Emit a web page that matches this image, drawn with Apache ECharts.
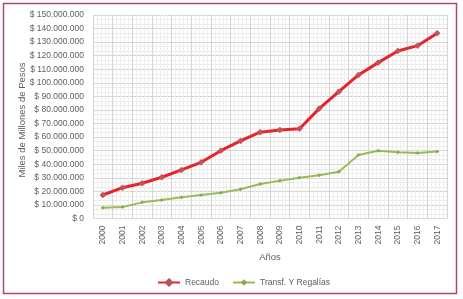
<!DOCTYPE html>
<html><head><meta charset="utf-8">
<script src="https://cdn.jsdelivr.net/npm/echarts@6/dist/echarts.min.js"></script>
<style>html,body{margin:0;padding:0;background:#fff}#c{width:463px;height:299px}</style>
</head><body><div id="c"></div>
<script>
const years = ['2000','2001','2002','2003','2004','2005','2006','2007','2008','2009','2010','2011','2012','2013','2014','2015','2016','2017'];
const recaudo = [17300000,22700000,26000000,30400000,35800000,41400000,50000000,57200000,63600000,65300000,66200000,81000000,93500000,105800000,114900000,123500000,127400000,136600000];
const transf = [8000000,8500000,11900000,13600000,15600000,17300000,19000000,21500000,25400000,27900000,30100000,31900000,34500000,46800000,50000000,48800000,48300000,49300000];
const seriesNames = ['Recaudo','Transf. Y Regalías'];
const yTitle = 'Miles de Millones de Pesos';
const xTitle = 'Años';

const FONT = '"Liberation Sans", Arial, sans-serif';
const TXT = '#606060';
function fmt(v){
  return '$ ' + String(Math.round(v)).replace(/\B(?=(\d{3})+(?!\d))/g, '.');
}
const chart = echarts.init(document.getElementById('c'), null, {renderer:'canvas'});
chart.setOption({
  animation:false,
  backgroundColor:'#fff',
  textStyle:{fontFamily:FONT},
  grid:{left:93, right:16, top:15, bottom:80.5, containLabel:false},
  legend:{
    left:152, top:273, itemWidth:22, itemHeight:8, itemGap:13,
    textStyle:{color:TXT, fontSize:8.5, fontFamily:FONT},
    data:seriesNames
  },
  xAxis:[{
    type:'category', data:years, boundaryGap:true,
    name:xTitle, nameLocation:'middle', nameGap:31,
    nameTextStyle:{color:TXT, fontSize:9.5, fontFamily:FONT},
    axisLine:{show:true, lineStyle:{color:'#d9d9d9'}},
    axisTick:{show:false},
    axisLabel:{rotate:90, color:TXT, fontSize:8.5, margin:7, interval:0, fontFamily:FONT},
    splitLine:{show:true, lineStyle:{color:'#d4d4d4', width:1}}
  },{
    type:'value', min:0, max:18, interval:1, show:true, position:'top',
    axisLine:{show:false}, axisTick:{show:false}, axisLabel:{show:false},
    splitLine:{show:false},
    minorTick:{show:false},
    minorSplitLine:{show:true, lineStyle:{color:'#eeeeee', width:1}}
  }],
  yAxis:{
    type:'value', min:0, max:150000000, interval:10000000,
    axisLine:{show:false}, axisTick:{show:false},
    axisLabel:{color:TXT, fontSize:8.5, margin:9, formatter:fmt, fontFamily:FONT},
    splitLine:{show:true, lineStyle:{color:'#d4d4d4', width:1}},
    minorTick:{show:false, splitNumber:3},
    minorSplitLine:{show:true, lineStyle:{color:'#ececec', width:1}}
  },
  graphic:[{
    type:'rect', shape:{x:3.5, y:3.5, width:453, height:290},
    style:{fill:'none', stroke:'#b24572', lineWidth:1.5}, silent:true, z:100
  },{
    type:'text', x:22, y:120, rotation:Math.PI/2, silent:true,
    style:{text:yTitle, fill:TXT, font:'9.5px ' + FONT, align:'center', verticalAlign:'middle'}
  }],
  series:[{
    name:seriesNames[0], type:'line', data:recaudo, xAxisIndex:0,
    lineStyle:{color:'#e4262b', width:3},
    itemStyle:{color:'#c25459', borderColor:'#b5505a', borderWidth:0.5},
    symbol:'diamond', symbolSize:6, showAllSymbol:true, z:3
  },{
    name:seriesNames[1], type:'line', data:transf, xAxisIndex:0,
    lineStyle:{color:'#9bbb59', width:2},
    itemStyle:{color:'#8aab4c', borderColor:'#8aab4c', borderWidth:0},
    symbol:'diamond', symbolSize:4, showAllSymbol:true, z:2
  }]
});
</script></body></html>
